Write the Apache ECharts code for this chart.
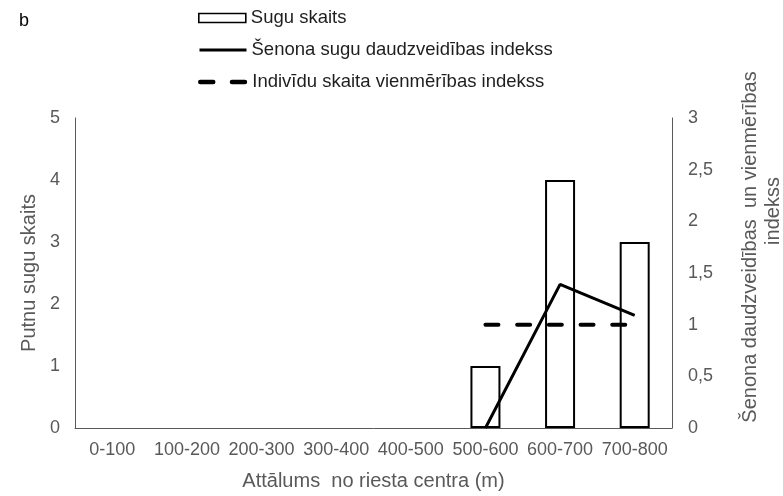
<!DOCTYPE html>
<html>
<head>
<meta charset="utf-8">
<script src="https://cdn.jsdelivr.net/npm/echarts@6/dist/echarts.min.js"></script>
<style>
html,body{margin:0;padding:0;background:#fff;}
#chart{width:783px;height:496px;}
</style>
</head>
<body>
<div id="chart"></div>
<script>
const categories = ['0-100','100-200','200-300','300-400','400-500','500-600','600-700','700-800'];
const speciesCount = [null, null, null, null, null, 1, 4, 3];
const shannonIndex = [null, null, null, null, null, 0, 1.39, 1.09];
const evennessIndex = [null, null, null, null, null, 1, 1, 1];
const seriesNames = ['Sugu skaits', 'Šenona sugu daudzveidības indekss', 'Indivīdu skaita vienmērības indekss'];
const panelLabel = 'b';
const xTitle = 'Attālums  no riesta centra (m)';
const leftTitle = 'Putnu sugu skaits';
const rightTitleLines = ['Šenona daudzveidības  un vienmērības', 'indekss'];

const FF = '"Liberation Sans", Arial, sans-serif';
const GRAY = '#595959';

const chart = echarts.init(document.getElementById('chart'), null, {renderer: 'canvas'});

function legendFor(name, top, extra) {
  return Object.assign({
    data: [name],
    left: 198,
    top: top,
    orient: 'vertical',
    padding: 0,
    itemWidth: 47,
    itemHeight: 9,
    selectedMode: false,
    textStyle: {fontFamily: FF, fontSize: 18.5, color: '#1e1e1e', lineHeight: 20}
  }, extra || {});
}

const option = {
  animation: false,
  backgroundColor: '#fff',
  title: {
    text: panelLabel, left: 14, top: 7,
    textStyle: {fontFamily: FF, fontSize: 18, fontWeight: 'normal', color: '#000'}
  },
  legend: [
    legendFor(seriesNames[0], 8, {icon: 'rect', itemStyle: {borderWidth: 1.6}}),
    legendFor(seriesNames[1], 40, {itemStyle: {opacity: 0}, lineStyle: {width: 3}}),
    legendFor(seriesNames[2], 72, {itemStyle: {opacity: 0}, lineStyle: {width: 4.5}})
  ],
  grid: {left: 75, right: 111, top: 118, bottom: 64, containLabel: false},
  xAxis: {
    type: 'category',
    data: categories,
    axisLine: {lineStyle: {color: GRAY, width: 1}},
    axisTick: {show: false},
    axisLabel: {color: GRAY, fontFamily: FF, fontSize: 18, margin: 13, interval: 0},
    name: xTitle,
    nameLocation: 'middle',
    nameGap: 43,
    nameTextStyle: {color: GRAY, fontFamily: FF, fontSize: 20}
  },
  yAxis: [
    {
      type: 'value', min: 0, max: 5, interval: 1,
      axisLine: {show: true, lineStyle: {color: GRAY, width: 1}},
      axisTick: {show: false},
      splitLine: {show: false},
      axisLabel: {color: GRAY, fontFamily: FF, fontSize: 18, margin: 15},
      name: leftTitle,
      nameLocation: 'middle',
      nameRotate: 90,
      nameGap: 29,
      nameTextStyle: {color: GRAY, fontFamily: FF, fontSize: 20}
    },
    {
      type: 'value', min: 0, max: 3, interval: 0.5, position: 'right',
      axisLine: {show: true, lineStyle: {color: GRAY, width: 1}},
      axisTick: {show: false},
      splitLine: {show: false},
      axisLabel: {color: GRAY, fontFamily: FF, fontSize: 18, margin: 16,
        formatter: v => String(v).replace('.', ',')}
    }
  ],
  graphic: [
    {type: 'text', x: 750, y: 247, rotation: Math.PI / 2,
      style: {text: rightTitleLines[0], font: '20px "Liberation Sans", Arial, sans-serif', fill: GRAY, align: 'center', verticalAlign: 'middle'}},
    {type: 'text', x: 773, y: 211, rotation: Math.PI / 2,
      style: {text: rightTitleLines[1], font: '20px "Liberation Sans", Arial, sans-serif', fill: GRAY, align: 'center', verticalAlign: 'middle'}}
  ],
  series: [
    {
      name: seriesNames[0], type: 'bar', yAxisIndex: 0,
      data: speciesCount, barWidth: 30,
      itemStyle: {color: '#ffffff', borderColor: '#000000', borderWidth: 2}
    },
    {
      name: seriesNames[1], type: 'line', yAxisIndex: 1,
      data: shannonIndex, symbol: 'none', showSymbol: false,
      lineStyle: {color: '#000000', width: 3}, itemStyle: {color: '#000000'}
    },
    {
      name: seriesNames[2], type: 'line', yAxisIndex: 1,
      data: evennessIndex, symbol: 'none', showSymbol: false,
      lineStyle: {color: '#000000', width: 4, type: [13, 18.7], cap: 'round'}, itemStyle: {color: '#000000'}
    }
  ]
};
chart.setOption(option);
</script>
</body>
</html>
